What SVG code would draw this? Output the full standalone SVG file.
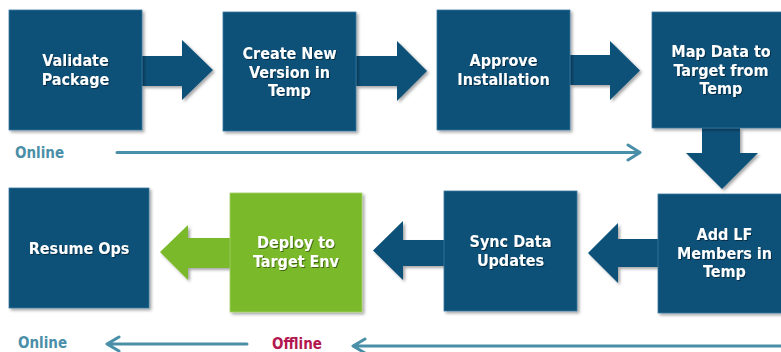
<svg xmlns="http://www.w3.org/2000/svg" width="781" height="352" viewBox="0 0 781 352">
<defs>
<filter id="sh" x="-10%" y="-10%" width="125%" height="125%">
<feDropShadow dx="2" dy="2" stdDeviation="1.6" flood-color="#000" flood-opacity="0.35"/>
</filter>
<filter id="tsh" x="-10%" y="-20%" width="120%" height="150%">
<feDropShadow dx="1" dy="1" stdDeviation="0.6" flood-color="#000" flood-opacity="0.45"/>
</filter>
</defs>
<style>
.box{fill:#0b5179;stroke:#3f7aa0;stroke-width:0.8;filter:url(#sh)}
.gbox{fill:#7ab92b;stroke:#a3d066;stroke-width:0.8;filter:url(#sh)}
.arr{fill:#0b5179;filter:url(#sh)}
.garr{fill:#7ab92b;filter:url(#sh)}
.lbl{font-family:"DejaVu Sans Condensed","DejaVu Sans",sans-serif;font-weight:bold;font-size:16px;fill:#fff;text-anchor:middle;filter:url(#tsh)}
.ln{stroke:#4a8fa8;stroke-width:3;fill:none;stroke-linecap:round;stroke-linejoin:round}
.on{font-family:"DejaVu Sans Condensed","DejaVu Sans",sans-serif;font-weight:bold;font-size:15px;fill:#4a8fa8}
.off{font-family:"DejaVu Sans Condensed","DejaVu Sans",sans-serif;font-weight:bold;font-size:15px;fill:#b3174f}
</style>
<rect width="781" height="352" fill="#fff"/>
<g id="connectors">
<polygon class="arr" points="142,56 182,56 182,40 213,70 182,100 182,86 142,86"/>
<polygon class="arr" points="356,56 397,56 397,41 427,71 397,101 397,86 356,86"/>
<polygon class="arr" points="570,55 610,55 610,41 640,70.5 610,100 610,85 570,85"/>
<polygon class="arr" points="702,128 740,128 740,153 758,153 722,189 686,153 702,153"/>
<polygon class="arr" points="658,239 618,239 618,223 588,253 618,283 618,267 658,267"/>
<polygon class="arr" points="444,240 403,240 403,221 373,250.5 403,280 403,266 444,266"/>
<polygon class="garr" points="230,238 188,238 188,225 160,252 188,280 188,268 230,268"/>
<path class="ln" d="M117,152.5 H639 M628,145 L640,152.5 L628,160"/>
<path class="ln" d="M247,344 H108 M119,337 L107,344 L119,351"/>
<path class="ln" d="M781,346 H354 M365,339 L353,346 L365,353"/>
</g>
<g id="validate"><rect class="box" x="9" y="10" width="133" height="120"/>
<text class="lbl" x="75.5" y="66">Validate<tspan x="75.5" dy="18.7">Package</tspan></text></g>
<g id="create"><rect class="box" x="223" y="12" width="133" height="119"/>
<text class="lbl" x="289.5" y="59">Create New<tspan x="289.5" dy="18.7">Version in</tspan><tspan x="289.5" dy="18.7">Temp</tspan></text></g>
<g id="approve"><rect class="box" x="437" y="10" width="133" height="120"/>
<text class="lbl" x="503.5" y="66">Approve<tspan x="503.5" dy="18.7">Installation</tspan></text></g>
<g id="map"><rect class="box" x="652" y="12" width="138" height="116"/>
<text class="lbl" x="721" y="57">Map Data to<tspan x="721" dy="18.7">Target from</tspan><tspan x="721" dy="18.7">Temp</tspan></text></g>
<g id="addlf"><rect class="box" x="658" y="194" width="133" height="119"/>
<text class="lbl" x="724.5" y="240">Add LF<tspan x="724.5" dy="18.7">Members in</tspan><tspan x="724.5" dy="18.7">Temp</tspan></text></g>
<g id="sync"><rect class="box" x="444" y="191" width="133" height="120"/>
<text class="lbl" x="510.5" y="247">Sync Data<tspan x="510.5" dy="18.7">Updates</tspan></text></g>
<g id="deploy"><rect class="gbox" x="230" y="193" width="132" height="119"/>
<text class="lbl" x="296" y="248">Deploy to<tspan x="296" dy="18.7">Target Env</tspan></text></g>
<g id="resume"><rect class="box" x="9" y="188" width="140" height="120"/>
<text class="lbl" x="79" y="254">Resume Ops</text></g>
<text class="on" x="15" y="158">Online</text>
<text class="on" x="18" y="348">Online</text>
<text class="off" x="272" y="348.5">Offline</text>
</svg>
